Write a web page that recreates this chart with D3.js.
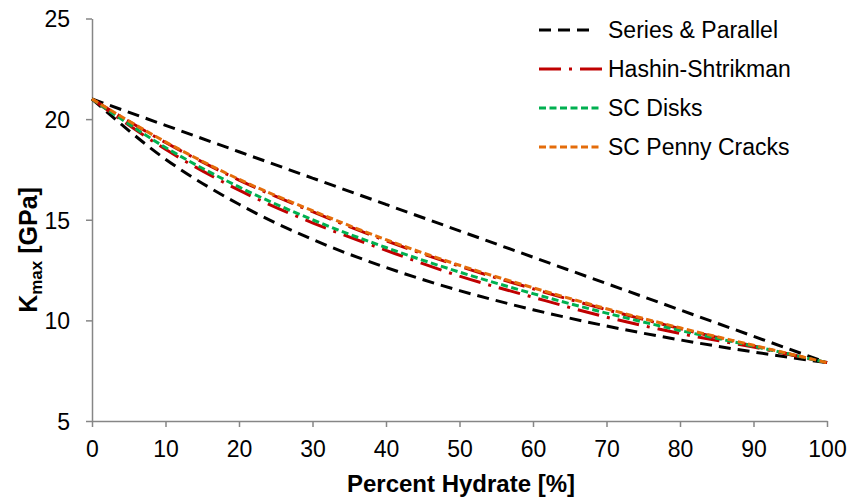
<!DOCTYPE html>
<html>
<head>
<meta charset="utf-8">
<script src="https://cdn.jsdelivr.net/npm/d3@7"></script>
<style>
  body { margin: 0; background: #fff; }
  text { font-family: Arial, "Liberation Sans", sans-serif; fill: #000; }
</style>
</head>
<body>
<div id="chart"></div>
<script>
// Values (x = percent hydrate, y = Kmax in GPa)
const hydrate = [0, 10, 20, 30, 40, 50, 60, 70, 80, 90, 100];
const kParallel = [21, 19.69, 18.38, 17.07, 15.76, 14.45, 13.14, 11.83, 10.52, 9.21, 7.9];
const kSeries = [21, 18.01, 15.77, 14.02, 12.63, 11.48, 10.53, 9.72, 9.03, 8.43, 7.9];
const kHsUpper = [21, 18.84, 16.97, 15.40, 13.96, 12.69, 11.57, 10.53, 9.59, 8.73, 7.9];
const kHsLower = [21, 18.50, 16.47, 14.85, 13.48, 12.20, 11.15, 10.16, 9.35, 8.67, 7.9];
const kScDisks = [21, 18.59, 16.63, 15.00, 13.62, 12.40, 11.33, 10.36, 9.50, 8.72, 7.9];
const kScPenny = [21, 18.87, 17.01, 15.45, 14.01, 12.74, 11.62, 10.58, 9.63, 8.76, 7.9];

const xTicks = [0, 10, 20, 30, 40, 50, 60, 70, 80, 90, 100];
const yTicks = [5, 10, 15, 20, 25];

const legendNames = ["Series & Parallel", "Hashin-Shtrikman", "SC Disks", "SC Penny Cracks"];

// Set the dimensions and margins of the graph
const width = 849, height = 498;
const margin = {left: 92, right: 22, top: 18.5, bottom: 77};

const svg = d3.select("#chart")
    .append("svg")
    .attr("width", width)
    .attr("height", height);

const xScale = d3.scaleLinear()
    .domain([0, 100])
    .range([margin.left, width - margin.right]);

const yScale = d3.scaleLinear()
    .domain([5, 25])
    .range([height - margin.bottom, margin.top]);

// Styles for each drawn series (black pair, red pair, green, orange)
const blackDash = "12,7";
const redDash = "22,8,3,8";
const squareDot = "7,3.5";

const series = [
    {values: kParallel, color: "#000000", dash: blackDash},
    {values: kSeries, color: "#000000", dash: blackDash},
    {values: kHsUpper, color: "#C00000", dash: redDash},
    {values: kHsLower, color: "#C00000", dash: redDash},
    {values: kScDisks, color: "#00B050", dash: squareDot},
    {values: kScPenny, color: "#E46C0A", dash: squareDot}
];

// x axis
const xAxis = svg.append("g")
    .attr("transform", `translate(0,${yScale(5)})`)
    .call(d3.axisBottom(xScale).tickValues(xTicks).tickSize(6).tickPadding(14).tickSizeOuter(0));

// y axis
const yAxis = svg.append("g")
    .attr("transform", `translate(${xScale(0)},0)`)
    .call(d3.axisLeft(yScale).tickValues(yTicks).tickSize(6).tickPadding(16).tickSizeOuter(0));

[xAxis, yAxis].forEach(function(ax) {
    ax.select(".domain").attr("stroke", "#868686").attr("stroke-width", 1.5);
    ax.selectAll(".tick line").attr("stroke", "#868686").attr("stroke-width", 1.5);
    ax.selectAll(".tick text")
        .style("font-family", "Arial, 'Liberation Sans', sans-serif")
        .style("font-size", "23px")
        .attr("fill", "#000");
});
yAxis.selectAll(".tick text").attr("dy", "0.36em");

// lines
const line = d3.line()
    .x(function(d, i) { return xScale(hydrate[i]); })
    .y(function(d) { return yScale(d); })
    .curve(d3.curveMonotoneX);

svg.selectAll(".series")
    .data(series)
    .enter()
    .append("path")
    .attr("class", "series")
    .attr("fill", "none")
    .attr("stroke", function(d) { return d.color; })
    .attr("stroke-width", 3)
    .attr("stroke-dasharray", function(d) { return d.dash; })
    .attr("d", function(d) { return line(d.values); });

// x axis title
svg.append("text")
    .attr("x", 461)
    .attr("y", 492)
    .attr("text-anchor", "middle")
    .style("font-size", "24px")
    .style("font-weight", "bold")
    .text("Percent Hydrate [%]");

// y axis title with subscript
const yTitle = svg.append("text")
    .attr("transform", "translate(37,250) rotate(-90)")
    .attr("text-anchor", "middle")
    .style("font-size", "25px")
    .style("font-weight", "bold");
yTitle.append("tspan").text("K");
yTitle.append("tspan").attr("dy", 5).style("font-size", "17px").text("max");
yTitle.append("tspan").attr("dy", -5).text(" [GPa]");

// legend
const legendStyles = [
    {color: "#000000", dash: blackDash, x2: 592},
    {color: "#C00000", dash: redDash, x2: 602},
    {color: "#00B050", dash: squareDot, x2: 602},
    {color: "#E46C0A", dash: squareDot, x2: 602}
];
const legendY = [30, 69, 108, 147];

const legend = svg.selectAll(".legend")
    .data(legendNames)
    .enter()
    .append("g")
    .attr("class", "legend");

legend.append("line")
    .attr("x1", 539)
    .attr("x2", function(d, i) { return legendStyles[i].x2; })
    .attr("y1", function(d, i) { return legendY[i]; })
    .attr("y2", function(d, i) { return legendY[i]; })
    .attr("stroke", function(d, i) { return legendStyles[i].color; })
    .attr("stroke-width", 3)
    .attr("stroke-dasharray", function(d, i) { return legendStyles[i].dash; });

legend.append("text")
    .attr("x", 608)
    .attr("y", function(d, i) { return legendY[i]; })
    .attr("dy", "0.36em")
    .style("font-size", "23px")
    .text(function(d) { return d; });
</script>
</body>
</html>
